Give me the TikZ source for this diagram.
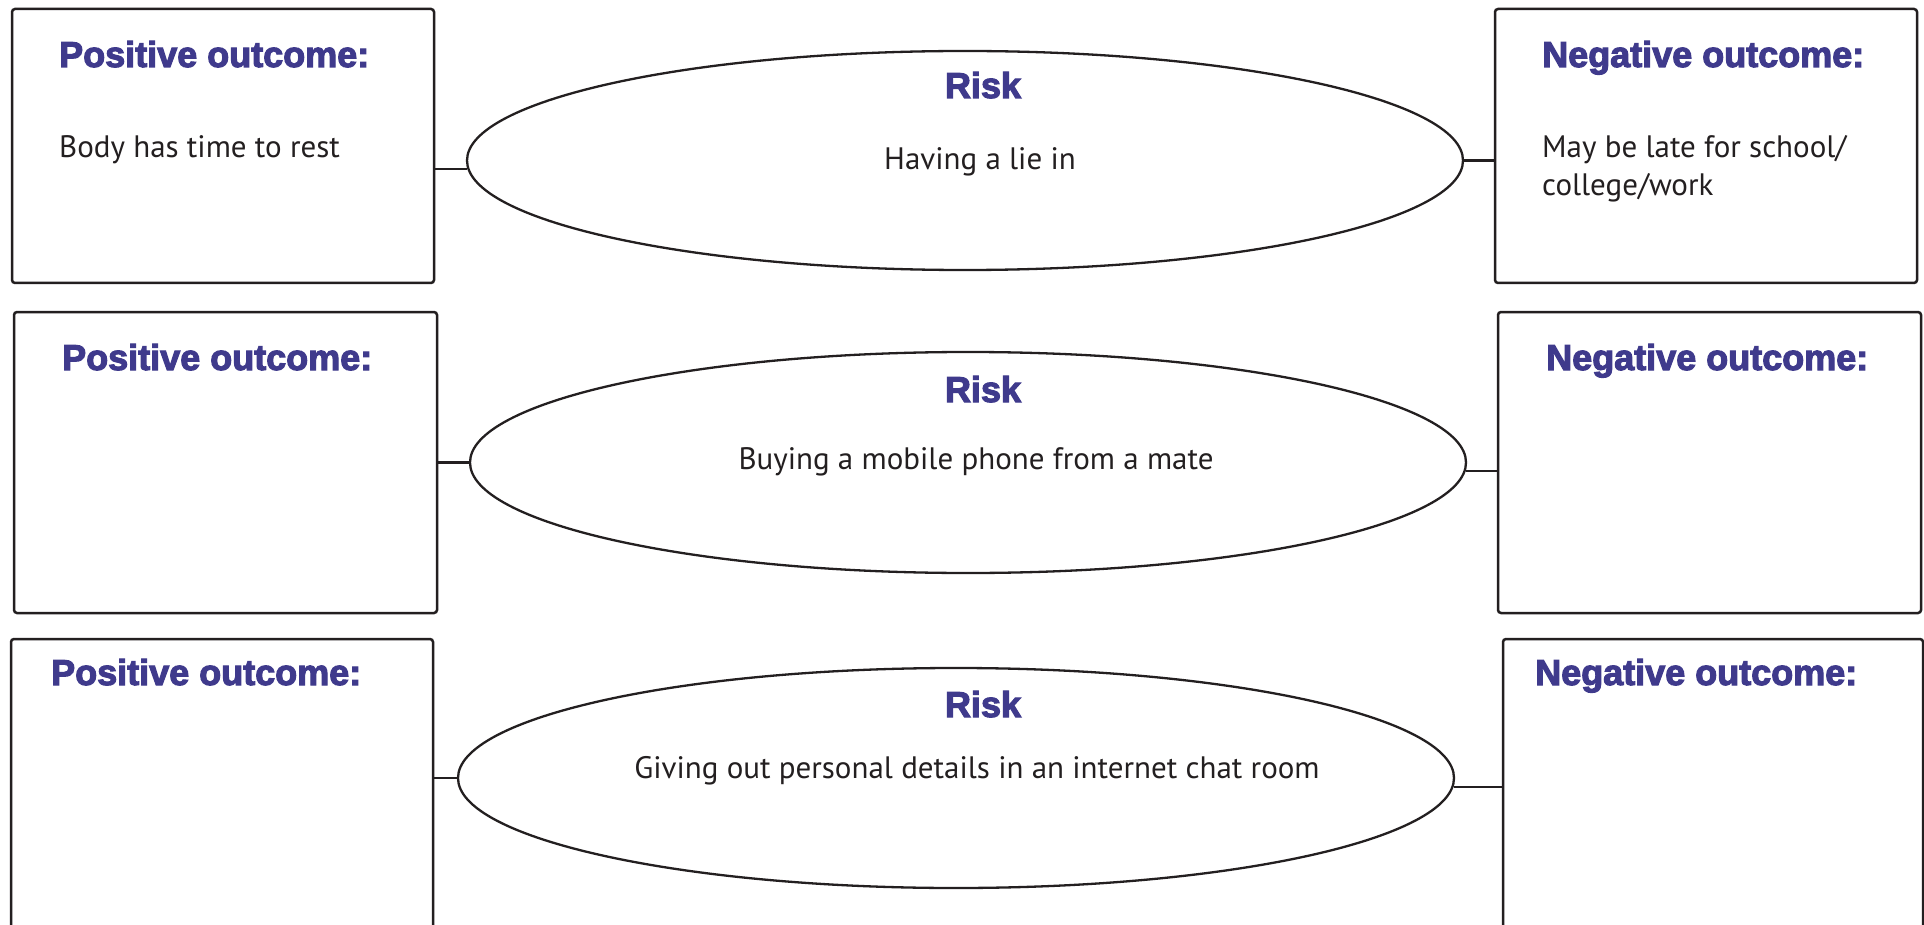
\documentclass[tikz,border=0pt]{standalone}
\usepackage{fontspec}
\setmainfont{PT Sans}
\newfontfamily\titlefont{Liberation Sans}[FakeBold=3]
\usetikzlibrary{shapes.geometric}
\definecolor{linec}{HTML}{231F20}
\definecolor{titlec}{HTML}{3F3A8C}
\begin{document}
\begin{tikzpicture}[x=1pt,y=-1pt,
  outbox/.style={draw=linec, line width=2.5pt, rounded corners=3pt, inner sep=0pt, fill=white},
  riskell/.style={ellipse, draw=linec, line width=2.3pt, inner sep=0pt, minimum width=996pt},
  conn/.style={draw=linec, line width=2.3pt},
  ttl/.style={font=\titlefont\bfseries\fontsize{36}{40}\selectfont, text=titlec, inner sep=0pt, anchor=base west},
  rsk/.style={font=\titlefont\bfseries\fontsize{36}{40}\selectfont, text=titlec, inner sep=0pt, anchor=base},
  bodytxt/.style={font=\fontsize{31}{38}\selectfont, text=linec, inner sep=0pt, anchor=base west, align=left},
  risktxt/.style={font=\fontsize{31}{38}\selectfont, text=linec, inner sep=0pt, anchor=base}]
\useasboundingbox (0,0) rectangle (1924,925);
\clip (0,0) rectangle (1924,925);
\fill[white] (0,0) rectangle (1924,925);

% Row 1
\node[outbox, minimum width=422pt, minimum height=274pt] (p1) at (223,146) {};
\node[outbox, minimum width=422pt, minimum height=274pt] (n1) at (1706,146) {};
\node[riskell, minimum height=219pt] (e1) at (965,160.5) {};
\node[ttl] (p1t) at (59,67) {Positive outcome:};
\node[ttl] (n1t) at (1542,67) {Negative outcome:};
\node[bodytxt] (p1b) at (59,158) {Body has time to rest};
\node[bodytxt] (n1b) at (1542,196) {May be late for school/\\college/work};
\node[rsk] (r1) at (983,98) {Risk};
\node[risktxt] (r1b) at (980,170) {Having a lie in};
\draw[conn] (p1.east |- e1.181.2) -- (e1.181.2);
\draw[conn] (e1.east) -- (n1.west |- e1.east);

% Row 2
\node[outbox, minimum width=423pt, minimum height=301pt] (p2) at (225.5,462.5) {};
\node[outbox, minimum width=423pt, minimum height=301pt] (n2) at (1709.5,462.5) {};
\node[riskell, minimum height=221pt] (e2) at (968,462.5) {};
\node[ttl] (p2t) at (62,370) {Positive outcome:};
\node[ttl] (n2t) at (1546,370) {Negative outcome:};
\node[rsk] (r2) at (983,402) {Risk};
\node[risktxt] (r2b) at (976,469) {Buying a mobile phone from a mate};
\draw[conn] (p2.east |- e2.180.75) -- (e2.180.75);
\draw[conn] (e2.359.8) -- (n2.west |- e2.359.8);

% Row 3
\node[outbox, minimum width=422pt, minimum height=321pt] (p3) at (222,799.5) {};
\node[outbox, minimum width=420pt, minimum height=321pt] (n3) at (1713,799.5) {};
\node[riskell, minimum height=220pt] (e3) at (956,778) {};
\node[ttl] (p3t) at (51,685) {Positive outcome:};
\node[ttl] (n3t) at (1535,685) {Negative outcome:};
\node[rsk] (r3) at (983,717) {Risk};
\node[risktxt] (r3b) at (977,778) {Giving out personal details in an internet chat room};
\draw[conn] (p3.east |- e3.180.23) -- (e3.180.23);
\draw[conn] (e3.359.9) -- (n3.west |- e3.359.9);
\end{tikzpicture}
\end{document}
